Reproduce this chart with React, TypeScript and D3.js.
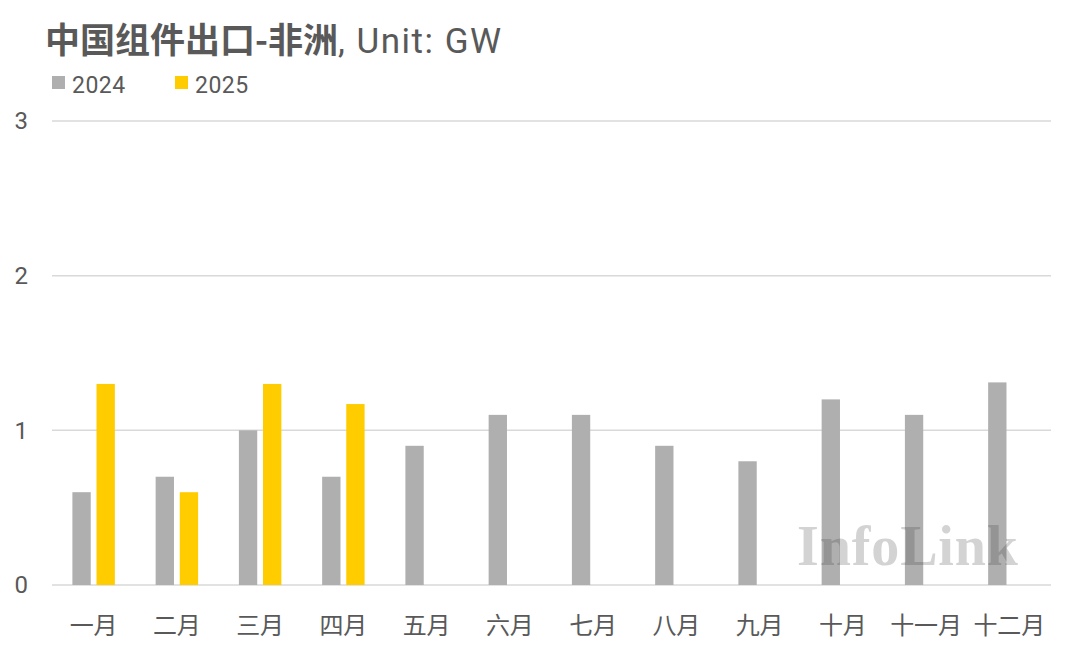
import React from 'react';
import * as d3 from 'd3';

const months = ['一月', '二月', '三月', '四月', '五月', '六月', '七月', '八月', '九月', '十月', '十一月', '十二月'];
const seriesNames = ['2024', '2025'];
const values2024 = [0.6, 0.7, 1.0, 0.7, 0.9, 1.1, 1.1, 0.9, 0.8, 1.2, 1.1, 1.31];
const values2025 = [1.3, 0.6, 1.3, 1.17];
const yTicks = [0, 1, 2, 3];

const colors: Record<string, string> = { '2024': '#afafaf', '2025': '#ffcc00' };
const textColor = '#595959';
const cjk = '"Noto Sans CJK SC", Roboto, sans-serif';
const latin = 'Roboto, "Noto Sans", sans-serif';

const W = 1080;
const H = 649;
const margin = { top: 121, right: 29, bottom: 64, left: 52 };

const App: React.FC = () => {
  const x0 = d3.scaleBand<string>()
    .domain(months)
    .range([margin.left, W - margin.right])
    .paddingInner(0.49)
    .paddingOuter(0.245);

  const x1 = d3.scaleBand<string>()
    .domain(seriesNames)
    .range([0, x0.bandwidth()])
    .paddingInner(0.24);

  const y = d3.scaleLinear().domain([0, 3]).range([H - margin.bottom, margin.top]);

  const bars = [
    ...values2024.map((v, i) => ({ s: '2024', m: months[i], v })),
    ...values2025.map((v, i) => ({ s: '2025', m: months[i], v })),
  ];

  return (
    <svg width={W} height={H} style={{ position: 'absolute', left: 0, top: 0, background: '#fff' }}>
      {/* title */}
      <text x={45} y={53} fill={textColor} fontSize={35} fontFamily={cjk}>
        <tspan fontWeight={700}>中国组件出口-非洲</tspan>
        <tspan fontFamily={latin} fontWeight={400} fontSize={35} letterSpacing={1.5}>, Unit: GW</tspan>
      </text>

      {/* legend */}
      {seriesNames.map((s, i) => (
        <g key={s} transform={`translate(${52 + i * 123},0)`}>
          <rect x={0} y={76} width={13} height={13} fill={colors[s]} />
          <text x={20} y={93} fill={textColor} fontSize={23} fontFamily={latin} letterSpacing={0.5}>{s}</text>
        </g>
      ))}

      {/* grid + y labels */}
      {yTicks.map((t) => (
        <g key={t}>
          <line x1={margin.left} x2={W - margin.right} y1={y(t)} y2={y(t)} stroke="#d9d9d9" strokeWidth={1.5} />
          <text x={28} y={y(t)} dy="0.35em" textAnchor="end" fill={textColor} fontSize={24} fontFamily={latin}>{t}</text>
        </g>
      ))}

      {/* bars */}
      {bars.map((b) => (
        <rect
          key={b.s + b.m}
          x={(x0(b.m) ?? 0) + (x1(b.s) ?? 0)}
          y={y(b.v)}
          width={x1.bandwidth()}
          height={y(0) - y(b.v)}
          fill={colors[b.s]}
        />
      ))}

      {/* x labels */}
      {months.map((m) => (
        <text key={m} x={(x0(m) ?? 0) + x0.bandwidth() / 2} y={634} textAnchor="middle" fill={textColor} fontSize={24} fontFamily={cjk}>{m}</text>
      ))}

      {/* watermark */}
      <text x={797} y={565} fontSize={56} fontWeight={700} fontFamily='"Liberation Serif", serif' fill="rgba(55,55,55,0.22)" textLength={221} lengthAdjust="spacing">InfoLink</text>
    </svg>
  );
};

export default App;
